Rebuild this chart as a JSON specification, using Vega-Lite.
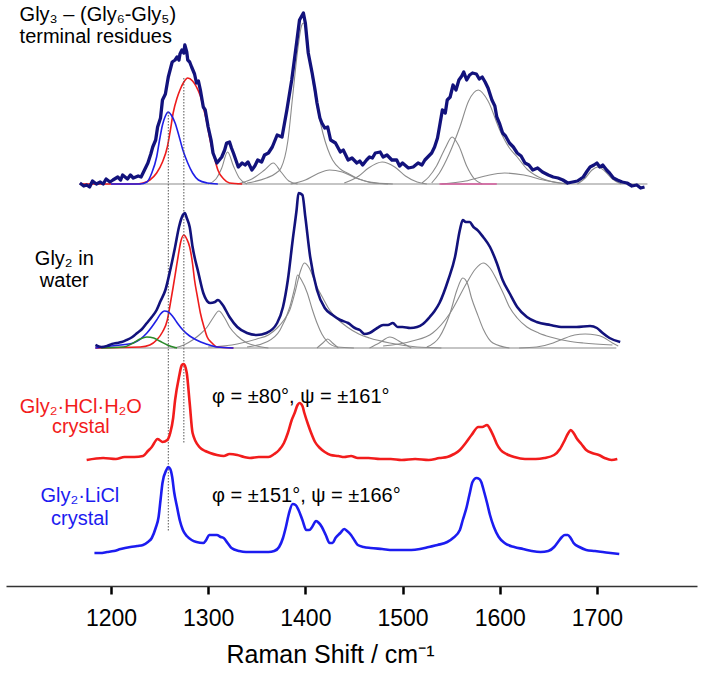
{
  "$schema": "https://vega.github.io/schema/vega-lite/v6.json",
  "width": 691,
  "height": 586,
  "autosize": {"type": "none"},
  "padding": {"left": 6, "top": 0, "right": 4, "bottom": 90},
  "background": "white",
  "config": {"view": {"stroke": null}, "font": "Liberation Sans"},
  "resolve": {"scale": {"color": "independent"}},
  "datasets": {
    "spectra": [
      {"s":"Gly3 terminal","x":1168,"y":403},{"s":"Gly3 terminal","x":1172,"y":400},{"s":"Gly3 terminal","x":1175,"y":401},{"s":"Gly3 terminal","x":1178,"y":399},{"s":"Gly3 terminal","x":1181,"y":405},{"s":"Gly3 terminal","x":1185,"y":402},{"s":"Gly3 terminal","x":1189,"y":404},{"s":"Gly3 terminal","x":1192,"y":402},{"s":"Gly3 terminal","x":1195,"y":407},{"s":"Gly3 terminal","x":1199,"y":404},{"s":"Gly3 terminal","x":1202,"y":406},{"s":"Gly3 terminal","x":1207,"y":409},{"s":"Gly3 terminal","x":1210,"y":406},{"s":"Gly3 terminal","x":1212,"y":411},{"s":"Gly3 terminal","x":1217,"y":407},{"s":"Gly3 terminal","x":1220,"y":411},{"s":"Gly3 terminal","x":1223,"y":408},{"s":"Gly3 terminal","x":1228,"y":410},{"s":"Gly3 terminal","x":1231,"y":409},{"s":"Gly3 terminal","x":1233,"y":413},{"s":"Gly3 terminal","x":1238,"y":423},{"s":"Gly3 terminal","x":1241,"y":432},{"s":"Gly3 terminal","x":1243,"y":439},{"s":"Gly3 terminal","x":1246,"y":446},{"s":"Gly3 terminal","x":1248,"y":459},{"s":"Gly3 terminal","x":1251,"y":468},{"s":"Gly3 terminal","x":1253,"y":486},{"s":"Gly3 terminal","x":1256,"y":492},{"s":"Gly3 terminal","x":1259,"y":509},{"s":"Gly3 terminal","x":1263,"y":524},{"s":"Gly3 terminal","x":1266,"y":526},{"s":"Gly3 terminal","x":1268,"y":529},{"s":"Gly3 terminal","x":1270,"y":526},{"s":"Gly3 terminal","x":1271,"y":532},{"s":"Gly3 terminal","x":1273,"y":536},{"s":"Gly3 terminal","x":1275,"y":533},{"s":"Gly3 terminal","x":1276,"y":541},{"s":"Gly3 terminal","x":1278,"y":534},{"s":"Gly3 terminal","x":1279,"y":526},{"s":"Gly3 terminal","x":1281,"y":524},{"s":"Gly3 terminal","x":1283,"y":519},{"s":"Gly3 terminal","x":1286,"y":512},{"s":"Gly3 terminal","x":1288,"y":503},{"s":"Gly3 terminal","x":1290,"y":505},{"s":"Gly3 terminal","x":1292,"y":496},{"s":"Gly3 terminal","x":1295,"y":479},{"s":"Gly3 terminal","x":1297,"y":476},{"s":"Gly3 terminal","x":1300,"y":459},{"s":"Gly3 terminal","x":1303,"y":446},{"s":"Gly3 terminal","x":1305,"y":433},{"s":"Gly3 terminal","x":1309,"y":423},{"s":"Gly3 terminal","x":1314,"y":429},{"s":"Gly3 terminal","x":1317,"y":436},{"s":"Gly3 terminal","x":1319,"y":443},{"s":"Gly3 terminal","x":1322,"y":444},{"s":"Gly3 terminal","x":1324,"y":438},{"s":"Gly3 terminal","x":1326,"y":433},{"s":"Gly3 terminal","x":1331,"y":419},{"s":"Gly3 terminal","x":1335,"y":423},{"s":"Gly3 terminal","x":1338,"y":421},{"s":"Gly3 terminal","x":1341,"y":424},{"s":"Gly3 terminal","x":1345,"y":416},{"s":"Gly3 terminal","x":1348,"y":420},{"s":"Gly3 terminal","x":1351,"y":426},{"s":"Gly3 terminal","x":1355,"y":424},{"s":"Gly3 terminal","x":1358,"y":431},{"s":"Gly3 terminal","x":1362,"y":433},{"s":"Gly3 terminal","x":1366,"y":439},{"s":"Gly3 terminal","x":1371,"y":451},{"s":"Gly3 terminal","x":1376,"y":449},{"s":"Gly3 terminal","x":1381,"y":476},{"s":"Gly3 terminal","x":1386,"y":506},{"s":"Gly3 terminal","x":1391,"y":543},{"s":"Gly3 terminal","x":1394,"y":566},{"s":"Gly3 terminal","x":1398,"y":573},{"s":"Gly3 terminal","x":1400,"y":563},{"s":"Gly3 terminal","x":1403,"y":533},{"s":"Gly3 terminal","x":1407,"y":513},{"s":"Gly3 terminal","x":1410,"y":496},{"s":"Gly3 terminal","x":1412,"y":483},{"s":"Gly3 terminal","x":1415,"y":468},{"s":"Gly3 terminal","x":1417,"y":463},{"s":"Gly3 terminal","x":1420,"y":458},{"s":"Gly3 terminal","x":1423,"y":459},{"s":"Gly3 terminal","x":1426,"y":446},{"s":"Gly3 terminal","x":1431,"y":443},{"s":"Gly3 terminal","x":1436,"y":434},{"s":"Gly3 terminal","x":1439,"y":436},{"s":"Gly3 terminal","x":1444,"y":426},{"s":"Gly3 terminal","x":1448,"y":428},{"s":"Gly3 terminal","x":1453,"y":423},{"s":"Gly3 terminal","x":1456,"y":425},{"s":"Gly3 terminal","x":1459,"y":421},{"s":"Gly3 terminal","x":1463,"y":426},{"s":"Gly3 terminal","x":1466,"y":429},{"s":"Gly3 terminal","x":1469,"y":428},{"s":"Gly3 terminal","x":1472,"y":433},{"s":"Gly3 terminal","x":1477,"y":434},{"s":"Gly3 terminal","x":1480,"y":429},{"s":"Gly3 terminal","x":1484,"y":431},{"s":"Gly3 terminal","x":1489,"y":426},{"s":"Gly3 terminal","x":1494,"y":426},{"s":"Gly3 terminal","x":1497,"y":420},{"s":"Gly3 terminal","x":1500,"y":423},{"s":"Gly3 terminal","x":1506,"y":418},{"s":"Gly3 terminal","x":1511,"y":419},{"s":"Gly3 terminal","x":1516,"y":423},{"s":"Gly3 terminal","x":1520,"y":421},{"s":"Gly3 terminal","x":1523,"y":426},{"s":"Gly3 terminal","x":1526,"y":429},{"s":"Gly3 terminal","x":1530,"y":433},{"s":"Gly3 terminal","x":1533,"y":439},{"s":"Gly3 terminal","x":1536,"y":448},{"s":"Gly3 terminal","x":1538,"y":459},{"s":"Gly3 terminal","x":1541,"y":476},{"s":"Gly3 terminal","x":1544,"y":473},{"s":"Gly3 terminal","x":1546,"y":486},{"s":"Gly3 terminal","x":1549,"y":489},{"s":"Gly3 terminal","x":1552,"y":501},{"s":"Gly3 terminal","x":1555,"y":496},{"s":"Gly3 terminal","x":1558,"y":506},{"s":"Gly3 terminal","x":1561,"y":510},{"s":"Gly3 terminal","x":1563,"y":514},{"s":"Gly3 terminal","x":1566,"y":506},{"s":"Gly3 terminal","x":1569,"y":511},{"s":"Gly3 terminal","x":1572,"y":513},{"s":"Gly3 terminal","x":1576,"y":512},{"s":"Gly3 terminal","x":1579,"y":507},{"s":"Gly3 terminal","x":1582,"y":509},{"s":"Gly3 terminal","x":1585,"y":504},{"s":"Gly3 terminal","x":1588,"y":498},{"s":"Gly3 terminal","x":1592,"y":486},{"s":"Gly3 terminal","x":1595,"y":480},{"s":"Gly3 terminal","x":1597,"y":469},{"s":"Gly3 terminal","x":1600,"y":462},{"s":"Gly3 terminal","x":1603,"y":453},{"s":"Gly3 terminal","x":1606,"y":450},{"s":"Gly3 terminal","x":1610,"y":443},{"s":"Gly3 terminal","x":1614,"y":439},{"s":"Gly3 terminal","x":1618,"y":433},{"s":"Gly3 terminal","x":1622,"y":430},{"s":"Gly3 terminal","x":1626,"y":423},{"s":"Gly3 terminal","x":1630,"y":421},{"s":"Gly3 terminal","x":1634,"y":416},{"s":"Gly3 terminal","x":1639,"y":418},{"s":"Gly3 terminal","x":1644,"y":414},{"s":"Gly3 terminal","x":1650,"y":411},{"s":"Gly3 terminal","x":1655,"y":409},{"s":"Gly3 terminal","x":1660,"y":408},{"s":"Gly3 terminal","x":1665,"y":406},{"s":"Gly3 terminal","x":1670,"y":403},{"s":"Gly3 terminal","x":1675,"y":404},{"s":"Gly3 terminal","x":1680,"y":405},{"s":"Gly3 terminal","x":1686,"y":409},{"s":"Gly3 terminal","x":1690,"y":415},{"s":"Gly3 terminal","x":1693,"y":419},{"s":"Gly3 terminal","x":1697,"y":421},{"s":"Gly3 terminal","x":1700,"y":423},{"s":"Gly3 terminal","x":1703,"y":419},{"s":"Gly3 terminal","x":1706,"y":421},{"s":"Gly3 terminal","x":1710,"y":416},{"s":"Gly3 terminal","x":1713,"y":413},{"s":"Gly3 terminal","x":1717,"y":408},{"s":"Gly3 terminal","x":1721,"y":406},{"s":"Gly3 terminal","x":1726,"y":404},{"s":"Gly3 terminal","x":1731,"y":403},{"s":"Gly3 terminal","x":1736,"y":400},{"s":"Gly3 terminal","x":1741,"y":401},{"s":"Gly3 terminal","x":1745,"y":398},{"s":"Gly3 terminal","x":1749,"y":399},

      {"s":"Gly2 water","x":1184,"y":241},{"s":"Gly2 water","x":1190,"y":239},{"s":"Gly2 water","x":1196,"y":240},{"s":"Gly2 water","x":1201,"y":242},{"s":"Gly2 water","x":1206,"y":243},{"s":"Gly2 water","x":1211,"y":244},{"s":"Gly2 water","x":1216,"y":246},{"s":"Gly2 water","x":1222,"y":249},{"s":"Gly2 water","x":1227,"y":253},{"s":"Gly2 water","x":1232,"y":257},{"s":"Gly2 water","x":1237,"y":263},{"s":"Gly2 water","x":1242,"y":269},{"s":"Gly2 water","x":1247,"y":276},{"s":"Gly2 water","x":1251,"y":285},{"s":"Gly2 water","x":1256,"y":296},{"s":"Gly2 water","x":1261,"y":316},{"s":"Gly2 water","x":1266,"y":339},{"s":"Gly2 water","x":1270,"y":359},{"s":"Gly2 water","x":1274,"y":371},{"s":"Gly2 water","x":1276,"y":373},{"s":"Gly2 water","x":1278,"y":368},{"s":"Gly2 water","x":1281,"y":359},{"s":"Gly2 water","x":1284,"y":339},{"s":"Gly2 water","x":1290,"y":313},{"s":"Gly2 water","x":1295,"y":293},{"s":"Gly2 water","x":1302,"y":283},{"s":"Gly2 water","x":1307,"y":284},{"s":"Gly2 water","x":1310,"y":286},{"s":"Gly2 water","x":1315,"y":281},{"s":"Gly2 water","x":1322,"y":269},{"s":"Gly2 water","x":1330,"y":259},{"s":"Gly2 water","x":1340,"y":253},{"s":"Gly2 water","x":1350,"y":251},{"s":"Gly2 water","x":1360,"y":253},{"s":"Gly2 water","x":1371,"y":263},{"s":"Gly2 water","x":1377,"y":279},{"s":"Gly2 water","x":1382,"y":306},{"s":"Gly2 water","x":1387,"y":346},{"s":"Gly2 water","x":1391,"y":376},{"s":"Gly2 water","x":1393,"y":393},{"s":"Gly2 water","x":1397,"y":391},{"s":"Gly2 water","x":1400,"y":369},{"s":"Gly2 water","x":1405,"y":329},{"s":"Gly2 water","x":1412,"y":296},{"s":"Gly2 water","x":1420,"y":278},{"s":"Gly2 water","x":1428,"y":271},{"s":"Gly2 water","x":1436,"y":266},{"s":"Gly2 water","x":1444,"y":263},{"s":"Gly2 water","x":1451,"y":258},{"s":"Gly2 water","x":1456,"y":256},{"s":"Gly2 water","x":1461,"y":252},{"s":"Gly2 water","x":1466,"y":253},{"s":"Gly2 water","x":1474,"y":258},{"s":"Gly2 water","x":1480,"y":261},{"s":"Gly2 water","x":1485,"y":261},{"s":"Gly2 water","x":1490,"y":263},{"s":"Gly2 water","x":1495,"y":259},{"s":"Gly2 water","x":1500,"y":259},{"s":"Gly2 water","x":1508,"y":258},{"s":"Gly2 water","x":1515,"y":259},{"s":"Gly2 water","x":1521,"y":262},{"s":"Gly2 water","x":1528,"y":269},{"s":"Gly2 water","x":1533,"y":275},{"s":"Gly2 water","x":1538,"y":283},{"s":"Gly2 water","x":1547,"y":306},{"s":"Gly2 water","x":1554,"y":329},{"s":"Gly2 water","x":1559,"y":356},{"s":"Gly2 water","x":1562,"y":366},{"s":"Gly2 water","x":1565,"y":364},{"s":"Gly2 water","x":1569,"y":364},{"s":"Gly2 water","x":1573,"y":359},{"s":"Gly2 water","x":1577,"y":356},{"s":"Gly2 water","x":1583,"y":349},{"s":"Gly2 water","x":1590,"y":339},{"s":"Gly2 water","x":1597,"y":323},{"s":"Gly2 water","x":1603,"y":306},{"s":"Gly2 water","x":1610,"y":293},{"s":"Gly2 water","x":1618,"y":279},{"s":"Gly2 water","x":1628,"y":269},{"s":"Gly2 water","x":1638,"y":264},{"s":"Gly2 water","x":1652,"y":261},{"s":"Gly2 water","x":1665,"y":259},{"s":"Gly2 water","x":1679,"y":259},{"s":"Gly2 water","x":1693,"y":260},{"s":"Gly2 water","x":1700,"y":258},{"s":"Gly2 water","x":1706,"y":253},{"s":"Gly2 water","x":1713,"y":248},{"s":"Gly2 water","x":1724,"y":244},

      {"s":"Gly2·HCl·H2O","x":1175,"y":126},{"s":"Gly2·HCl·H2O","x":1192,"y":128},{"s":"Gly2·HCl·H2O","x":1205,"y":127},{"s":"Gly2·HCl·H2O","x":1214,"y":129},{"s":"Gly2·HCl·H2O","x":1224,"y":129},{"s":"Gly2·HCl·H2O","x":1233,"y":130},{"s":"Gly2·HCl·H2O","x":1238,"y":135},{"s":"Gly2·HCl·H2O","x":1242,"y":139},{"s":"Gly2·HCl·H2O","x":1248,"y":147},{"s":"Gly2·HCl·H2O","x":1250,"y":146},{"s":"Gly2·HCl·H2O","x":1253,"y":144},{"s":"Gly2·HCl·H2O","x":1258,"y":146},{"s":"Gly2·HCl·H2O","x":1261,"y":153},{"s":"Gly2·HCl·H2O","x":1264,"y":168},{"s":"Gly2·HCl·H2O","x":1266,"y":186},{"s":"Gly2·HCl·H2O","x":1270,"y":209},{"s":"Gly2·HCl·H2O","x":1273,"y":221},{"s":"Gly2·HCl·H2O","x":1275,"y":222},{"s":"Gly2·HCl·H2O","x":1278,"y":213},{"s":"Gly2·HCl·H2O","x":1281,"y":183},{"s":"Gly2·HCl·H2O","x":1284,"y":153},{"s":"Gly2·HCl·H2O","x":1291,"y":139},{"s":"Gly2·HCl·H2O","x":1297,"y":135},{"s":"Gly2·HCl·H2O","x":1302,"y":133},{"s":"Gly2·HCl·H2O","x":1309,"y":131},{"s":"Gly2·HCl·H2O","x":1316,"y":130},{"s":"Gly2·HCl·H2O","x":1322,"y":132},{"s":"Gly2·HCl·H2O","x":1330,"y":131},{"s":"Gly2·HCl·H2O","x":1337,"y":129},{"s":"Gly2·HCl·H2O","x":1343,"y":128},{"s":"Gly2·HCl·H2O","x":1352,"y":129},{"s":"Gly2·HCl·H2O","x":1362,"y":129},{"s":"Gly2·HCl·H2O","x":1368,"y":132},{"s":"Gly2·HCl·H2O","x":1373,"y":136},{"s":"Gly2·HCl·H2O","x":1378,"y":143},{"s":"Gly2·HCl·H2O","x":1382,"y":153},{"s":"Gly2·HCl·H2O","x":1386,"y":166},{"s":"Gly2·HCl·H2O","x":1389,"y":173},{"s":"Gly2·HCl·H2O","x":1392,"y":181},{"s":"Gly2·HCl·H2O","x":1394,"y":183},{"s":"Gly2·HCl·H2O","x":1397,"y":180},{"s":"Gly2·HCl·H2O","x":1399,"y":173},{"s":"Gly2·HCl·H2O","x":1403,"y":161},{"s":"Gly2·HCl·H2O","x":1406,"y":153},{"s":"Gly2·HCl·H2O","x":1410,"y":144},{"s":"Gly2·HCl·H2O","x":1415,"y":138},{"s":"Gly2·HCl·H2O","x":1420,"y":134},{"s":"Gly2·HCl·H2O","x":1426,"y":131},{"s":"Gly2·HCl·H2O","x":1434,"y":130},{"s":"Gly2·HCl·H2O","x":1440,"y":129},{"s":"Gly2·HCl·H2O","x":1447,"y":130},{"s":"Gly2·HCl·H2O","x":1454,"y":128},{"s":"Gly2·HCl·H2O","x":1465,"y":128},{"s":"Gly2·HCl·H2O","x":1477,"y":127},{"s":"Gly2·HCl·H2O","x":1488,"y":127},{"s":"Gly2·HCl·H2O","x":1499,"y":126},{"s":"Gly2·HCl·H2O","x":1513,"y":127},{"s":"Gly2·HCl·H2O","x":1527,"y":126},{"s":"Gly2·HCl·H2O","x":1538,"y":128},{"s":"Gly2·HCl·H2O","x":1546,"y":129},{"s":"Gly2·HCl·H2O","x":1553,"y":132},{"s":"Gly2·HCl·H2O","x":1559,"y":136},{"s":"Gly2·HCl·H2O","x":1565,"y":143},{"s":"Gly2·HCl·H2O","x":1571,"y":151},{"s":"Gly2·HCl·H2O","x":1578,"y":159},{"s":"Gly2·HCl·H2O","x":1582,"y":159},{"s":"Gly2·HCl·H2O","x":1587,"y":161},{"s":"Gly2·HCl·H2O","x":1590,"y":157},{"s":"Gly2·HCl·H2O","x":1594,"y":149},{"s":"Gly2·HCl·H2O","x":1597,"y":142},{"s":"Gly2·HCl·H2O","x":1601,"y":136},{"s":"Gly2·HCl·H2O","x":1607,"y":132},{"s":"Gly2·HCl·H2O","x":1615,"y":129},{"s":"Gly2·HCl·H2O","x":1626,"y":127},{"s":"Gly2·HCl·H2O","x":1637,"y":127},{"s":"Gly2·HCl·H2O","x":1646,"y":128},{"s":"Gly2·HCl·H2O","x":1656,"y":131},{"s":"Gly2·HCl·H2O","x":1662,"y":137},{"s":"Gly2·HCl·H2O","x":1667,"y":146},{"s":"Gly2·HCl·H2O","x":1670,"y":152},{"s":"Gly2·HCl·H2O","x":1673,"y":156},{"s":"Gly2·HCl·H2O","x":1676,"y":153},{"s":"Gly2·HCl·H2O","x":1679,"y":148},{"s":"Gly2·HCl·H2O","x":1684,"y":142},{"s":"Gly2·HCl·H2O","x":1689,"y":136},{"s":"Gly2·HCl·H2O","x":1695,"y":133},{"s":"Gly2·HCl·H2O","x":1702,"y":131},{"s":"Gly2·HCl·H2O","x":1708,"y":128},{"s":"Gly2·HCl·H2O","x":1715,"y":126},{"s":"Gly2·HCl·H2O","x":1721,"y":127},

      {"s":"Gly2·LiCl","x":1183,"y":33},{"s":"Gly2·LiCl","x":1189,"y":33},{"s":"Gly2·LiCl","x":1196,"y":34},{"s":"Gly2·LiCl","x":1203,"y":35},{"s":"Gly2·LiCl","x":1210,"y":37},{"s":"Gly2·LiCl","x":1220,"y":39},{"s":"Gly2·LiCl","x":1227,"y":40},{"s":"Gly2·LiCl","x":1233,"y":41},{"s":"Gly2·LiCl","x":1238,"y":44},{"s":"Gly2·LiCl","x":1242,"y":48},{"s":"Gly2·LiCl","x":1246,"y":58},{"s":"Gly2·LiCl","x":1249,"y":69},{"s":"Gly2·LiCl","x":1251,"y":86},{"s":"Gly2·LiCl","x":1253,"y":103},{"s":"Gly2·LiCl","x":1257,"y":116},{"s":"Gly2·LiCl","x":1259,"y":119},{"s":"Gly2·LiCl","x":1261,"y":117},{"s":"Gly2·LiCl","x":1263,"y":109},{"s":"Gly2·LiCl","x":1265,"y":94},{"s":"Gly2·LiCl","x":1268,"y":79},{"s":"Gly2·LiCl","x":1271,"y":65},{"s":"Gly2·LiCl","x":1274,"y":56},{"s":"Gly2·LiCl","x":1278,"y":50},{"s":"Gly2·LiCl","x":1283,"y":46},{"s":"Gly2·LiCl","x":1288,"y":44},{"s":"Gly2·LiCl","x":1295,"y":43},{"s":"Gly2·LiCl","x":1298,"y":46},{"s":"Gly2·LiCl","x":1301,"y":51},{"s":"Gly2·LiCl","x":1305,"y":51},{"s":"Gly2·LiCl","x":1309,"y":51},{"s":"Gly2·LiCl","x":1313,"y":49},{"s":"Gly2·LiCl","x":1316,"y":48},{"s":"Gly2·LiCl","x":1320,"y":43},{"s":"Gly2·LiCl","x":1324,"y":38},{"s":"Gly2·LiCl","x":1332,"y":35},{"s":"Gly2·LiCl","x":1339,"y":34},{"s":"Gly2·LiCl","x":1350,"y":34},{"s":"Gly2·LiCl","x":1362,"y":34},{"s":"Gly2·LiCl","x":1368,"y":35},{"s":"Gly2·LiCl","x":1373,"y":39},{"s":"Gly2·LiCl","x":1377,"y":48},{"s":"Gly2·LiCl","x":1380,"y":59},{"s":"Gly2·LiCl","x":1383,"y":72},{"s":"Gly2·LiCl","x":1387,"y":82},{"s":"Gly2·LiCl","x":1390,"y":81},{"s":"Gly2·LiCl","x":1393,"y":76},{"s":"Gly2·LiCl","x":1397,"y":66},{"s":"Gly2·LiCl","x":1401,"y":56},{"s":"Gly2·LiCl","x":1404,"y":56},{"s":"Gly2·LiCl","x":1407,"y":59},{"s":"Gly2·LiCl","x":1411,"y":65},{"s":"Gly2·LiCl","x":1414,"y":63},{"s":"Gly2·LiCl","x":1417,"y":59},{"s":"Gly2·LiCl","x":1421,"y":51},{"s":"Gly2·LiCl","x":1425,"y":43},{"s":"Gly2·LiCl","x":1428,"y":43},{"s":"Gly2·LiCl","x":1431,"y":48},{"s":"Gly2·LiCl","x":1436,"y":53},{"s":"Gly2·LiCl","x":1440,"y":57},{"s":"Gly2·LiCl","x":1443,"y":55},{"s":"Gly2·LiCl","x":1447,"y":51},{"s":"Gly2·LiCl","x":1451,"y":45},{"s":"Gly2·LiCl","x":1454,"y":41},{"s":"Gly2·LiCl","x":1460,"y":39},{"s":"Gly2·LiCl","x":1467,"y":38},{"s":"Gly2·LiCl","x":1479,"y":37},{"s":"Gly2·LiCl","x":1490,"y":36},{"s":"Gly2·LiCl","x":1499,"y":36},{"s":"Gly2·LiCl","x":1509,"y":36},{"s":"Gly2·LiCl","x":1518,"y":37},{"s":"Gly2·LiCl","x":1527,"y":39},{"s":"Gly2·LiCl","x":1536,"y":41},{"s":"Gly2·LiCl","x":1546,"y":44},{"s":"Gly2·LiCl","x":1552,"y":48},{"s":"Gly2·LiCl","x":1559,"y":56},{"s":"Gly2·LiCl","x":1562,"y":66},{"s":"Gly2·LiCl","x":1566,"y":79},{"s":"Gly2·LiCl","x":1569,"y":92},{"s":"Gly2·LiCl","x":1572,"y":104},{"s":"Gly2·LiCl","x":1576,"y":108},{"s":"Gly2·LiCl","x":1579,"y":107},{"s":"Gly2·LiCl","x":1581,"y":104},{"s":"Gly2·LiCl","x":1584,"y":94},{"s":"Gly2·LiCl","x":1587,"y":83},{"s":"Gly2·LiCl","x":1590,"y":71},{"s":"Gly2·LiCl","x":1594,"y":59},{"s":"Gly2·LiCl","x":1599,"y":49},{"s":"Gly2·LiCl","x":1605,"y":43},{"s":"Gly2·LiCl","x":1615,"y":39},{"s":"Gly2·LiCl","x":1624,"y":37},{"s":"Gly2·LiCl","x":1633,"y":35},{"s":"Gly2·LiCl","x":1642,"y":34},{"s":"Gly2·LiCl","x":1650,"y":35},{"s":"Gly2·LiCl","x":1656,"y":39},{"s":"Gly2·LiCl","x":1660,"y":44},{"s":"Gly2·LiCl","x":1664,"y":49},{"s":"Gly2·LiCl","x":1667,"y":51},{"s":"Gly2·LiCl","x":1670,"y":51},{"s":"Gly2·LiCl","x":1673,"y":48},{"s":"Gly2·LiCl","x":1676,"y":43},{"s":"Gly2·LiCl","x":1682,"y":39},{"s":"Gly2·LiCl","x":1689,"y":36},{"s":"Gly2·LiCl","x":1698,"y":35},{"s":"Gly2·LiCl","x":1706,"y":34},{"s":"Gly2·LiCl","x":1714,"y":33},{"s":"Gly2·LiCl","x":1723,"y":32}
    ],
    "components": [
      {"c":"t-base","x":1168,"y":402},{"c":"t-base","x":1752,"y":402},
      {"c":"t-1320","x":1300,"y":402},{"c":"t-1320","x":1308,"y":407},{"c":"t-1320","x":1314,"y":418},{"c":"t-1320","x":1320,"y":434},{"c":"t-1320","x":1326,"y":420},{"c":"t-1320","x":1332,"y":408},{"c":"t-1320","x":1340,"y":402},
      {"c":"t-1367","x":1330,"y":402},{"c":"t-1367","x":1345,"y":407},{"c":"t-1367","x":1358,"y":416},{"c":"t-1367","x":1367,"y":423},{"c":"t-1367","x":1375,"y":414},{"c":"t-1367","x":1383,"y":405},{"c":"t-1367","x":1392,"y":402},
      {"c":"t-1398","x":1340,"y":403},{"c":"t-1398","x":1360,"y":408},{"c":"t-1398","x":1370,"y":413},{"c":"t-1398","x":1375,"y":418},{"c":"t-1398","x":1382,"y":445},{"c":"t-1398","x":1387,"y":490},{"c":"t-1398","x":1392,"y":535},{"c":"t-1398","x":1396,"y":560},{"c":"t-1398","x":1398,"y":563},{"c":"t-1398","x":1401,"y":556},{"c":"t-1398","x":1404,"y":530},{"c":"t-1398","x":1408,"y":503},{"c":"t-1398","x":1413,"y":475},{"c":"t-1398","x":1418,"y":453},{"c":"t-1398","x":1423,"y":437},{"c":"t-1398","x":1428,"y":426},{"c":"t-1398","x":1436,"y":417},{"c":"t-1398","x":1443,"y":413},{"c":"t-1398","x":1455,"y":407},{"c":"t-1398","x":1466,"y":404},{"c":"t-1398","x":1490,"y":402},
      {"c":"t-1425","x":1385,"y":402},{"c":"t-1425","x":1400,"y":406},{"c":"t-1425","x":1412,"y":412},{"c":"t-1425","x":1425,"y":416},{"c":"t-1425","x":1438,"y":414},{"c":"t-1425","x":1452,"y":408},{"c":"t-1425","x":1470,"y":403},{"c":"t-1425","x":1485,"y":402},
      {"c":"t-1479","x":1440,"y":403},{"c":"t-1479","x":1455,"y":410},{"c":"t-1479","x":1465,"y":418},{"c":"t-1479","x":1479,"y":424},{"c":"t-1479","x":1492,"y":419},{"c":"t-1479","x":1503,"y":410},{"c":"t-1479","x":1515,"y":404},{"c":"t-1479","x":1525,"y":402},
      {"c":"t-1551","x":1520,"y":403},{"c":"t-1551","x":1527,"y":409},{"c":"t-1551","x":1535,"y":420},{"c":"t-1551","x":1544,"y":438},{"c":"t-1551","x":1551,"y":449},{"c":"t-1551","x":1558,"y":440},{"c":"t-1551","x":1566,"y":420},{"c":"t-1551","x":1574,"y":407},{"c":"t-1551","x":1582,"y":402},
      {"c":"t-1578","x":1530,"y":403},{"c":"t-1578","x":1538,"y":413},{"c":"t-1578","x":1548,"y":432},{"c":"t-1578","x":1559,"y":459},{"c":"t-1578","x":1568,"y":485},{"c":"t-1578","x":1578,"y":496},{"c":"t-1578","x":1588,"y":485},{"c":"t-1578","x":1600,"y":456},{"c":"t-1578","x":1610,"y":438},{"c":"t-1578","x":1618,"y":429},{"c":"t-1578","x":1628,"y":417},{"c":"t-1578","x":1640,"y":409},{"c":"t-1578","x":1655,"y":404},{"c":"t-1578","x":1670,"y":402},
      {"c":"t-1605","x":1540,"y":402},{"c":"t-1605","x":1565,"y":405},{"c":"t-1605","x":1585,"y":410},{"c":"t-1605","x":1605,"y":413},{"c":"t-1605","x":1625,"y":411},{"c":"t-1605","x":1645,"y":406},{"c":"t-1605","x":1670,"y":402},
      {"c":"t-1701","x":1680,"y":402},{"c":"t-1701","x":1688,"y":408},{"c":"t-1701","x":1695,"y":416},{"c":"t-1701","x":1701,"y":419},{"c":"t-1701","x":1708,"y":415},{"c":"t-1701","x":1716,"y":407},{"c":"t-1701","x":1725,"y":402},
      {"c":"m-base","x":1184,"y":238},{"c":"m-base","x":1720,"y":238},
      {"c":"m-1311","x":1265,"y":238},{"c":"m-1311","x":1275,"y":241},{"c":"m-1311","x":1284,"y":246},{"c":"m-1311","x":1292,"y":252},{"c":"m-1311","x":1299,"y":259},{"c":"m-1311","x":1305,"y":268},{"c":"m-1311","x":1311,"y":275},{"c":"m-1311","x":1317,"y":268},{"c":"m-1311","x":1322,"y":259},{"c":"m-1311","x":1330,"y":250},{"c":"m-1311","x":1340,"y":243},{"c":"m-1311","x":1350,"y":240},{"c":"m-1311","x":1362,"y":238},
      {"c":"m-1392","x":1340,"y":239},{"c":"m-1392","x":1360,"y":244},{"c":"m-1392","x":1374,"y":256},{"c":"m-1392","x":1384,"y":279},{"c":"m-1392","x":1389,"y":298},{"c":"m-1392","x":1392,"y":311},{"c":"m-1392","x":1396,"y":306},{"c":"m-1392","x":1402,"y":293},{"c":"m-1392","x":1407,"y":277},{"c":"m-1392","x":1412,"y":263},{"c":"m-1392","x":1417,"y":252},{"c":"m-1392","x":1422,"y":245},{"c":"m-1392","x":1433,"y":239},{"c":"m-1392","x":1450,"y":238},
      {"c":"m-1399","x":1300,"y":239},{"c":"m-1399","x":1330,"y":242},{"c":"m-1399","x":1350,"y":247},{"c":"m-1399","x":1362,"y":251},{"c":"m-1399","x":1371,"y":258},{"c":"m-1399","x":1378,"y":266},{"c":"m-1399","x":1384,"y":276},{"c":"m-1399","x":1390,"y":296},{"c":"m-1399","x":1395,"y":315},{"c":"m-1399","x":1399,"y":323},{"c":"m-1399","x":1404,"y":318},{"c":"m-1399","x":1408,"y":309},{"c":"m-1399","x":1412,"y":299},{"c":"m-1399","x":1418,"y":288},{"c":"m-1399","x":1425,"y":276},{"c":"m-1399","x":1433,"y":267},{"c":"m-1399","x":1443,"y":259},{"c":"m-1399","x":1455,"y":252},{"c":"m-1399","x":1466,"y":248},{"c":"m-1399","x":1487,"y":243},{"c":"m-1399","x":1515,"y":239},{"c":"m-1399","x":1540,"y":238},
      {"c":"m-1423","x":1412,"y":238},{"c":"m-1423","x":1418,"y":243},{"c":"m-1423","x":1423,"y":247},{"c":"m-1423","x":1428,"y":243},{"c":"m-1423","x":1434,"y":238},
      {"c":"m-1487","x":1466,"y":238},{"c":"m-1487","x":1476,"y":243},{"c":"m-1487","x":1487,"y":249},{"c":"m-1487","x":1498,"y":244},{"c":"m-1487","x":1509,"y":238},
      {"c":"m-1562","x":1525,"y":239},{"c":"m-1562","x":1538,"y":249},{"c":"m-1562","x":1549,"y":273},{"c":"m-1562","x":1556,"y":296},{"c":"m-1562","x":1562,"y":308},{"c":"m-1562","x":1567,"y":302},{"c":"m-1562","x":1571,"y":288},{"c":"m-1562","x":1577,"y":272},{"c":"m-1562","x":1583,"y":257},{"c":"m-1562","x":1593,"y":243},{"c":"m-1562","x":1610,"y":238},
      {"c":"m-1583","x":1480,"y":240},{"c":"m-1583","x":1510,"y":245},{"c":"m-1583","x":1531,"y":253},{"c":"m-1583","x":1549,"y":273},{"c":"m-1583","x":1566,"y":303},{"c":"m-1583","x":1575,"y":317},{"c":"m-1583","x":1583,"y":323},{"c":"m-1583","x":1590,"y":318},{"c":"m-1583","x":1597,"y":306},{"c":"m-1583","x":1604,"y":292},{"c":"m-1583","x":1610,"y":279},{"c":"m-1583","x":1618,"y":268},{"c":"m-1583","x":1628,"y":259},{"c":"m-1583","x":1640,"y":253},{"c":"m-1583","x":1652,"y":249},{"c":"m-1583","x":1670,"y":245},{"c":"m-1583","x":1686,"y":243},{"c":"m-1583","x":1716,"y":241},
      {"c":"m-1688","x":1620,"y":238},{"c":"m-1688","x":1638,"y":239},{"c":"m-1688","x":1655,"y":243},{"c":"m-1688","x":1665,"y":247},{"c":"m-1688","x":1677,"y":251},{"c":"m-1688","x":1688,"y":252},{"c":"m-1688","x":1699,"y":251},{"c":"m-1688","x":1706,"y":249},{"c":"m-1688","x":1716,"y":243},{"c":"m-1688","x":1722,"y":240}
    ],
    "fits": [
      {"c":"t-A","band":"A","x":1168,"y":402},{"c":"t-A","band":"A","x":1225,"y":402},{"c":"t-A","band":"A","x":1233,"y":403},{"c":"t-A","band":"A","x":1240,"y":406},{"c":"t-A","band":"A","x":1247,"y":413},{"c":"t-A","band":"A","x":1253,"y":424},{"c":"t-A","band":"A","x":1258,"y":439},{"c":"t-A","band":"A","x":1261,"y":455},{"c":"t-A","band":"A","x":1264,"y":473},{"c":"t-A","band":"A","x":1268,"y":488},{"c":"t-A","band":"A","x":1271,"y":496},{"c":"t-A","band":"A","x":1275,"y":504},{"c":"t-A","band":"A","x":1279,"y":508},{"c":"t-A","band":"A","x":1284,"y":505},{"c":"t-A","band":"A","x":1288,"y":499},{"c":"t-A","band":"A","x":1292,"y":490},{"c":"t-A","band":"A","x":1295,"y":479},{"c":"t-A","band":"A","x":1299,"y":462},{"c":"t-A","band":"A","x":1302,"y":446},{"c":"t-A","band":"A","x":1306,"y":430},{"c":"t-A","band":"A","x":1310,"y":416},{"c":"t-A","band":"A","x":1316,"y":407},{"c":"t-A","band":"A","x":1322,"y":403},{"c":"t-A","band":"A","x":1335,"y":402},
      {"c":"t-B","band":"B","x":1200,"y":402},{"c":"t-B","band":"B","x":1230,"y":402},{"c":"t-B","band":"B","x":1237,"y":404},{"c":"t-B","band":"B","x":1242,"y":413},{"c":"t-B","band":"B","x":1247,"y":429},{"c":"t-B","band":"B","x":1250,"y":446},{"c":"t-B","band":"B","x":1253,"y":461},{"c":"t-B","band":"B","x":1256,"y":470},{"c":"t-B","band":"B","x":1259,"y":474},{"c":"t-B","band":"B","x":1262,"y":471},{"c":"t-B","band":"B","x":1266,"y":463},{"c":"t-B","band":"B","x":1270,"y":450},{"c":"t-B","band":"B","x":1274,"y":436},{"c":"t-B","band":"B","x":1279,"y":423},{"c":"t-B","band":"B","x":1284,"y":413},{"c":"t-B","band":"B","x":1290,"y":406},{"c":"t-B","band":"B","x":1299,"y":403},{"c":"t-B","band":"B","x":1310,"y":402},
      {"c":"t-D","band":"D","x":1538,"y":402},{"c":"t-D","band":"D","x":1597,"y":402},
      {"c":"m-A","band":"A","x":1184,"y":238},{"c":"m-A","band":"A","x":1230,"y":239},{"c":"m-A","band":"A","x":1240,"y":241},{"c":"m-A","band":"A","x":1247,"y":246},{"c":"m-A","band":"A","x":1253,"y":254},{"c":"m-A","band":"A","x":1258,"y":266},{"c":"m-A","band":"A","x":1261,"y":282},{"c":"m-A","band":"A","x":1264,"y":299},{"c":"m-A","band":"A","x":1267,"y":317},{"c":"m-A","band":"A","x":1269,"y":329},{"c":"m-A","band":"A","x":1272,"y":345},{"c":"m-A","band":"A","x":1275,"y":351},{"c":"m-A","band":"A","x":1278,"y":347},{"c":"m-A","band":"A","x":1281,"y":339},{"c":"m-A","band":"A","x":1284,"y":322},{"c":"m-A","band":"A","x":1286,"y":306},{"c":"m-A","band":"A","x":1289,"y":289},{"c":"m-A","band":"A","x":1292,"y":273},{"c":"m-A","band":"A","x":1296,"y":258},{"c":"m-A","band":"A","x":1299,"y":249},{"c":"m-A","band":"A","x":1304,"y":243},{"c":"m-A","band":"A","x":1309,"y":239},{"c":"m-A","band":"A","x":1326,"y":238},
      {"c":"m-B","band":"B","x":1184,"y":238},{"c":"m-B","band":"B","x":1200,"y":240},{"c":"m-B","band":"B","x":1223,"y":243},{"c":"m-B","band":"B","x":1237,"y":253},{"c":"m-B","band":"B","x":1247,"y":266},{"c":"m-B","band":"B","x":1251,"y":272},{"c":"m-B","band":"B","x":1255,"y":275},{"c":"m-B","band":"B","x":1259,"y":274},{"c":"m-B","band":"B","x":1264,"y":269},{"c":"m-B","band":"B","x":1269,"y":262},{"c":"m-B","band":"B","x":1274,"y":256},{"c":"m-B","band":"B","x":1281,"y":250},{"c":"m-B","band":"B","x":1288,"y":246},{"c":"m-B","band":"B","x":1298,"y":242},{"c":"m-B","band":"B","x":1309,"y":239},{"c":"m-B","band":"B","x":1326,"y":238},
      {"c":"m-C","band":"C","x":1190,"y":238},{"c":"m-C","band":"C","x":1213,"y":239},{"c":"m-C","band":"C","x":1223,"y":243},{"c":"m-C","band":"C","x":1230,"y":247},{"c":"m-C","band":"C","x":1237,"y":249},{"c":"m-C","band":"C","x":1244,"y":248},{"c":"m-C","band":"C","x":1250,"y":245},{"c":"m-C","band":"C","x":1258,"y":241},{"c":"m-C","band":"C","x":1268,"y":238}
    ],
    "guides": [
      {"band":"B","x":1259,"y":474,"y2":54},
      {"band":"A","x":1275,"y":508,"y2":142}
    ],
    "notes": [
      {"t":"Gly₃ – (Gly₆-Gly₅)","role":"head","who":"Gly3 terminal","x":1106,"y":565},
      {"t":"terminal residues","role":"head","who":"Gly3 terminal","x":1106,"y":543},
      {"t":"Gly₂ in","role":"sample","who":"Gly2 water","x":1152,"y":321},
      {"t":"water","role":"sample","who":"Gly2 water","x":1152,"y":299},
      {"t":"Gly₂·HCl·H₂O","role":"sample","who":"Gly2·HCl·H2O","x":1169,"y":173},
      {"t":"crystal","role":"sample","who":"Gly2·HCl·H2O","x":1169,"y":153},
      {"t":"Gly₂·LiCl","role":"sample","who":"Gly2·LiCl","x":1168,"y":84},
      {"t":"crystal","role":"sample","who":"Gly2·LiCl","x":1168,"y":61},
      {"t":"φ = ±80°, ψ = ±161°","role":"head","who":"angles","x":1304,"y":183},
      {"t":"φ = ±151°, ψ = ±166°","role":"head","who":"angles","x":1304,"y":84}
    ]
  },
  "encoding": {
    "x": {
      "field": "x", "type": "quantitative",
      "scale": {"domain": [1092, 1803], "nice": false, "zero": false},
      "axis": {
        "values": [1200, 1300, 1400, 1500, 1600, 1700],
        "format": "d",
        "grid": false,
        "domainColor": "#333333", "domainWidth": 1.5,
        "tickColor": "#000000", "tickSize": 8, "tickWidth": 2.5,
        "labelFont": "Liberation Sans", "labelFontSize": 23, "labelColor": "#000000", "labelPadding": 13,
        "labelFlush": false,
        "title": "Raman Shift / cm⁻¹",
        "titleFont": "Liberation Sans", "titleFontSize": 25, "titleFontWeight": "normal", "titleColor": "#000000",
        "titleX": 324, "titleY": 76, "titleAlign": "center", "titleBaseline": "alphabetic",
        "encode": {"labels": {"update": {"dx": {"signal": "(datum.value - 1700) * 0.018"}, "fontSize": {"value": 23}}}}
      }
    },
    "y": {
      "field": "y", "type": "quantitative",
      "scale": {"domain": [0, 586], "nice": false, "zero": false},
      "axis": null
    }
  },
  "layer": [
    {
      "data": {"name": "components"},
      "mark": {"type": "line", "interpolate": "monotone", "color": "#8c8c8c", "strokeWidth": 1.1},
      "encoding": {"detail": {"field": "c", "type": "nominal"}}
    },
    {
      "data": {"name": "fits"},
      "mark": {"type": "line", "interpolate": "monotone", "strokeWidth": 1.6},
      "encoding": {
        "detail": {"field": "c", "type": "nominal"},
        "color": {"field": "band", "type": "nominal", "legend": null,
          "scale": {"domain": ["A", "B", "C", "D"], "range": ["#ee1c1c", "#1f1fe6", "#2a8a2a", "#d65a9c"]}}
      }
    },
    {
      "data": {"name": "guides"},
      "mark": {"type": "rule", "color": "#555555", "strokeWidth": 1, "strokeDash": [1.5, 1.5]},
      "encoding": {"y2": {"field": "y2"}}
    },
    {
      "data": {"name": "spectra"},
      "transform": [{"filter": "datum.s === 'Gly3 terminal'"}],
      "mark": {"type": "line", "color": "#12127c", "strokeWidth": 3.3, "strokeJoin": "round"},
      "encoding": {}
    },
    {
      "data": {"name": "spectra"},
      "transform": [{"filter": "datum.s !== 'Gly3 terminal'"}],
      "mark": {"type": "line", "interpolate": "monotone", "strokeWidth": 2.6},
      "encoding": {
        "detail": {"field": "s", "type": "nominal"},
        "color": {"field": "s", "type": "nominal", "legend": null,
          "scale": {"domain": ["Gly2 water", "Gly2·HCl·H2O", "Gly2·LiCl"], "range": ["#12127c", "#f21c1c", "#1c1cf0"]}},
        "strokeWidth": {"condition": {"test": "datum.s === 'Gly2 water'", "value": 3.2}, "value": 2.6}
      }
    },
    {
      "data": {"name": "notes"},
      "transform": [{"filter": "datum.role === 'head'"}],
      "mark": {"type": "text", "align": "left", "baseline": "alphabetic", "font": "Liberation Sans", "fontSize": 20, "color": "#000000"},
      "encoding": {"text": {"field": "t"}}
    },
    {
      "data": {"name": "notes"},
      "transform": [{"filter": "datum.role === 'sample'"}],
      "mark": {"type": "text", "align": "center", "baseline": "alphabetic", "font": "Liberation Sans", "fontSize": 20},
      "encoding": {
        "text": {"field": "t"},
        "color": {"field": "who", "type": "nominal", "legend": null,
          "scale": {"domain": ["Gly2 water", "Gly2·HCl·H2O", "Gly2·LiCl"], "range": ["#000000", "#f21c1c", "#1c1cf0"]}}
      }
    }
  ]
}
